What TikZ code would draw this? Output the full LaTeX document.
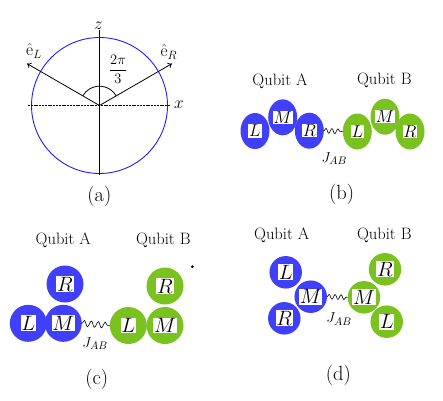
\documentclass[tikz,border=0pt]{standalone}
\usetikzlibrary{shapes.geometric,decorations.pathmorphing,arrows.meta}
\definecolor{ballblue}{RGB}{64,64,250}
\definecolor{ballgreen}{RGB}{122,194,32}
\definecolor{circblue}{RGB}{30,30,245}
\tikzset{
  ball/.style={circle,inner sep=0pt,draw=none},
  bball/.style={ball,fill=ballblue},
  gball/.style={ball,fill=ballgreen},
  ell/.style={ellipse,inner sep=0pt,minimum width=29pt,minimum height=36pt,draw=none},
  bell/.style={ell,fill=ballblue},
  gell/.style={ell,fill=ballgreen},
  spring/.style={decorate,decoration={snake,segment length=6pt,amplitude=2.4pt},line width=0.6pt},
  qlabel/.style={font=\fontsize{16.5}{19}\selectfont},
  plabel/.style={font=\fontsize{20.5}{24}\selectfont},
  jlabel/.style={font=\fontsize{15.5}{18}\selectfont},
  axis/.style={line width=1.3pt},
  evec/.style={line width=0.8pt,-{To[length=4pt,width=6pt]}}
}
\newcommand{\bl}[1]{\setlength{\fboxsep}{0.8pt}\colorbox{white}{$#1$}}
\begin{document}
\begin{tikzpicture}[x=1pt,y=-1pt]
\useasboundingbox (0,0) rectangle (443,400);
% ---------- panel (a)
\coordinate (O) at (99.5,105.5);
\draw[circblue,line width=0.9pt] (O) circle[radius=68];
\draw[axis] (99.5,30) -- (99.5,175);
\draw[line width=0.8pt,dash pattern=on 2pt off 0.8pt] (28,105.5) -- (170,105.5);
\coordinate (eR) at (172,63.6);
\coordinate (eL) at (27,63.6);
\draw[evec] (O) -- (eR);
\draw[evec] (O) -- (eL);
\draw[line width=0.8pt] (116.2,95.85) arc[start angle=-30,end angle=-150,radius=19.3];
\node[qlabel] (zl) at (98.5,26) {$z$};
\node[qlabel] (xl) at (179,104.5) {$x$};
\node[qlabel] (eLl) at (34,51) {$\hat{\mathrm{e}}_L$};
\node[qlabel] (eRl) at (169,52) {$\hat{\mathrm{e}}_R$};
\node[font=\fontsize{14.4}{17}\selectfont] (ang) at (118,69.5) {$\displaystyle\frac{2\pi}{3}$};
\node[plabel] (pa) at (99.3,196.5) {(a)};
% ---------- panel (b)
\node[qlabel] (qAb) at (280,81) {Qubit A};
\node[qlabel] (qBb) at (384.3,80) {Qubit B};
\begin{scope}[font=\fontsize{17.28}{20}\selectfont]
\node[bell] (bLb) at (255,131) {\bl{L}};
\node[bell] (bMb) at (282.7,117.3) {\bl{M}};
\node[bell] (bRb) at (309.3,130.7) {\bl{R}};
\node[gell] (gLb) at (357.3,131.5) {\bl{L}};
\node[gell] (gMb) at (385,116.7) {\bl{M}};
\node[gell] (gRb) at (410,131.5) {\bl{R}};
\end{scope}
\draw[spring] (bRb.east) -- (gLb.west);
\node[jlabel] (jb) at (334.3,158.5) {$J_{AB}$};
\node[plabel] (pb) at (341.7,194.5) {(b)};
% ---------- panel (c)
\node[qlabel] (qAc) at (63.3,240.5) {Qubit A};
\node[qlabel] (qBc) at (163.3,240.5) {Qubit B};
\begin{scope}[font=\fontsize{20.74}{24}\selectfont]
\node[bball,minimum size=37pt] (bRc) at (65,284) {\bl{R}};
\node[bball,minimum size=37pt] (bLc) at (28.3,323.3) {\bl{L}};
\node[bball,minimum size=37pt] (bMc) at (63.3,323.3) {\bl{M}};
\node[gball,minimum size=37pt] (gLc) at (128.3,325.5) {\bl{L}};
\node[gball,minimum size=37pt] (gMc) at (165,325.5) {\bl{M}};
\node[gball,minimum size=37pt] (gRc) at (165,286) {\bl{R}};
\end{scope}
\draw[spring,decoration={snake,segment length=7pt,amplitude=3pt}] (bMc.east) -- (gLc.west);
\node[jlabel] (jc) at (95,343.5) {$J_{AB}$};
\fill (192.3,266.7) circle[radius=1.5] coordinate (dot);
\node[plabel] (pc) at (96.7,379) {(c)};
% ---------- panel (d)
\node[qlabel] (qAd) at (281.7,235) {Qubit A};
\node[qlabel] (qBd) at (384.3,235) {Qubit B};
\begin{scope}[font=\fontsize{20.74}{24}\selectfont]
\node[bball,minimum size=32.5pt] (bLd) at (285.7,272.3) {\bl{L}};
\node[bball,minimum size=32.5pt] (bMd) at (310.7,296.7) {\bl{M}};
\node[bball,minimum size=32.5pt] (bRd) at (284.3,318.3) {\bl{R}};
\node[gball,minimum size=32.5pt] (gRd) at (385,269.3) {\bl{R}};
\node[gball,minimum size=32.5pt] (gMd) at (364,297.3) {\bl{M}};
\node[gball,minimum size=32.5pt] (gLd) at (386.7,321.7) {\bl{L}};
\end{scope}
\draw[spring] (bMd.east) -- (gMd.west);
\node[jlabel] (jd) at (339,319) {$J_{AB}$};
\node[plabel] (pd) at (338.3,375.5) {(d)};
\end{tikzpicture}
\end{document}
